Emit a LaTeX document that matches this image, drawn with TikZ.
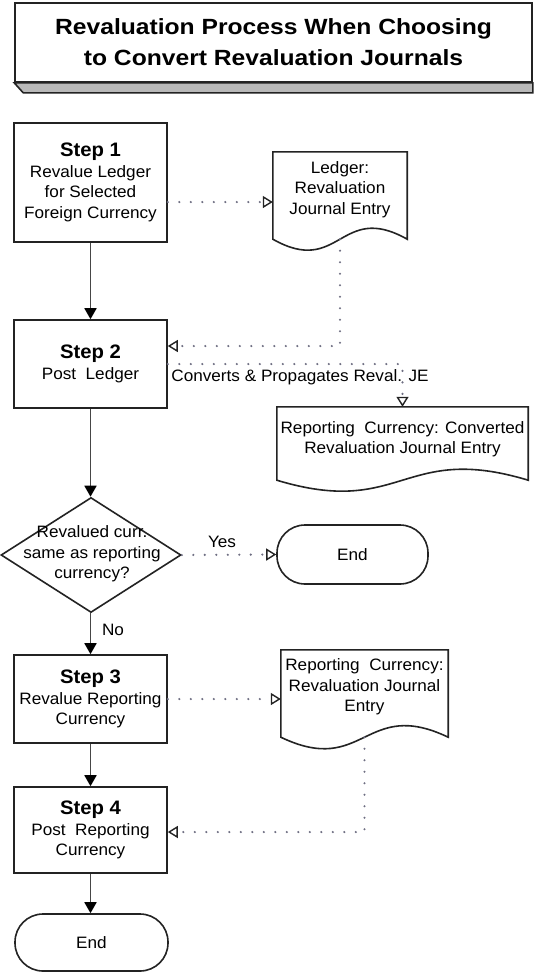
\documentclass[tikz,border=0pt]{standalone}
\usepackage{fontspec}
\setmainfont{Liberation Sans}
\newfontfamily\titlefont[FakeStretch=1.12]{Liberation Sans}
\newfontfamily\bodyfont[FakeStretch=1.04]{Liberation Sans}
\usetikzlibrary{arrows.meta,shapes.geometric,calc}
\definecolor{boxc}{RGB}{35,35,35}
\definecolor{linec}{RGB}{70,70,70}
\definecolor{dotc}{RGB}{110,110,130}
\definecolor{shelf}{RGB}{185,185,185}
\newcommand{\docshape}[2]{%
  \draw[docline] (#1.south west) -- (#1.north west) -- (#1.north east) -- (#1.south east)
    .. controls ([yshift=#2pt]#1.south) and ([yshift=-#2pt]#1.south) .. (#1.south west) -- cycle;}
\tikzset{
  bodytext/.style={font=\bodyfont\fontsize{16.5}{20.5}\selectfont, inner sep=0pt, align=center},
  stepbox/.style={draw=boxc, line width=1.6pt, fill=white, minimum width=153pt, inner sep=0pt,
    align=center, font=\bodyfont\fontsize{16.5}{20.5}\selectfont},
  term/.style={draw=boxc, line width=1.6pt, fill=white, rounded corners=28pt, inner sep=0pt,
    font=\bodyfont\fontsize{16.5}{20.5}\selectfont},
  docline/.style={draw=boxc, line width=1.6pt, fill=white},
  docnode/.style={draw=none, inner sep=0pt},
  solidarrow/.style={draw=linec, line width=1.8pt, -{Triangle[length=11pt,width=12pt,color=black]}},
  dotarrow/.style={draw=dotc, line width=2.4pt, dash pattern=on 0pt off 11.5pt, line cap=round,
    -{Triangle[open,length=10pt,width=12pt,line width=1.4pt,color=boxc]}}
}
\begin{document}
\begin{tikzpicture}[x=1pt,y=1pt]
\useasboundingbox (0,0) rectangle (533,-972);
\fill[white] (0,0) rectangle (533,-972);

% title
\node[draw=boxc, line width=1.6pt, fill=white, minimum width=517pt, minimum height=79pt, inner sep=0pt,
  align=center, font=\titlefont\bfseries\fontsize{22}{31}\selectfont] (title) at (273.5,-42.5)
  {Revaluation Process When Choosing\\to Convert Revaluation Journals};
\draw[draw=boxc, line width=1.6pt, fill=shelf] (title.south west) -- (title.south east)
  -- ([yshift=-10pt]title.south east) -- ([xshift=9pt,yshift=-10pt]title.south west) -- cycle;

% steps
\node[stepbox, minimum height=119pt] (s1) at (90.5,-182.5)
  {{\bodyfont\bfseries\fontsize{19.5}{22}\selectfont Step 1}\\Revalue Ledger\\for Selected\\Foreign Currency};
\node[stepbox, minimum height=88pt] (s2) at (90.5,-364)
  {{\bodyfont\bfseries\fontsize{19.5}{22}\selectfont Step 2}\\Post\ \ Ledger};
\node[stepbox, minimum height=88pt] (s3) at (90.5,-699)
  {{\bodyfont\bfseries\fontsize{19.5}{22}\selectfont Step 3}\\Revalue Reporting\\Currency};
\node[stepbox, minimum height=86pt] (s4) at (90.5,-830)
  {{\bodyfont\bfseries\fontsize{19.5}{22}\selectfont Step 4}\\Post\ \ Reporting\\Currency};

% decision
\node[diamond, draw=boxc, line width=1.6pt, fill=white, minimum width=180pt, minimum height=115pt,
  inner sep=0pt] (dec) at (91,-555) {};
\node[bodytext] (dect) at (92,-554) {Revalued curr.\\same as reporting\\currency?};

% terminals
\node[term, minimum width=151pt, minimum height=59pt] (end1) at (352.5,-554.5) {End};
\node[term, minimum width=153pt, minimum height=57pt] (end2) at (91.5,-942.5) {End};

% documents
\node[docnode, minimum width=134pt, minimum height=87pt] (d1) at (340,-195.5) {};
\docshape{d1}{38}
\node[bodytext] (d1t) at (340,-189.5) {Ledger:\\Revaluation\\Journal Entry};

\node[docnode, minimum width=251pt, minimum height=73pt] (d2) at (402.5,-443.5) {};
\docshape{d2}{38}
\node[bodytext] (d2t) at (402.5,-439) {Reporting\ \ Currency: Converted\\Revaluation Journal Entry};

\node[docnode, minimum width=167pt, minimum height=87pt] (d3) at (364.5,-693.5) {};
\docshape{d3}{40}
\node[bodytext] (d3t) at (364.5,-687) {Reporting\ \ Currency:\\Revaluation Journal\\Entry};

% solid connectors
\draw[solidarrow] (s1.south) -- (s2.north);
\draw[solidarrow] (s2.south) -- (s2.south |- dec.north);
\draw[solidarrow] (dec.south -| s3.north) -- (s3.north);
\draw[solidarrow] (s3.south) -- (s4.north);
\draw[solidarrow] (s4.south) -- (s4.south |- end2.north);

% dotted connectors
\coordinate (p1) at ([yshift=-19.5pt]s1.east);
\draw[dotarrow] (p1) -- (p1 -| d1.west);
\coordinate (p2) at ([yshift=18pt]s2.east);
\draw[dotarrow] (d1.south) |- (p2);
\draw[dotarrow] (s2.east) -| (d2.north);
\draw[dotarrow] (dec.east) -- (end1.west);
\coordinate (p3) at (s3.east);
\draw[dotarrow] (p3) -- (p3 -| d3.west);
\coordinate (p4) at ([yshift=-2pt]s4.east);
\draw[dotarrow] (d3.south) |- (p4);

% labels
\node[bodytext] (lconv) at (300,-377) {Converts \& Propagates Reval. JE};
\node[bodytext] (lyes) at (222,-542) {Yes};
\node[bodytext] (lno) at (113,-630) {No};
\end{tikzpicture}
\end{document}
